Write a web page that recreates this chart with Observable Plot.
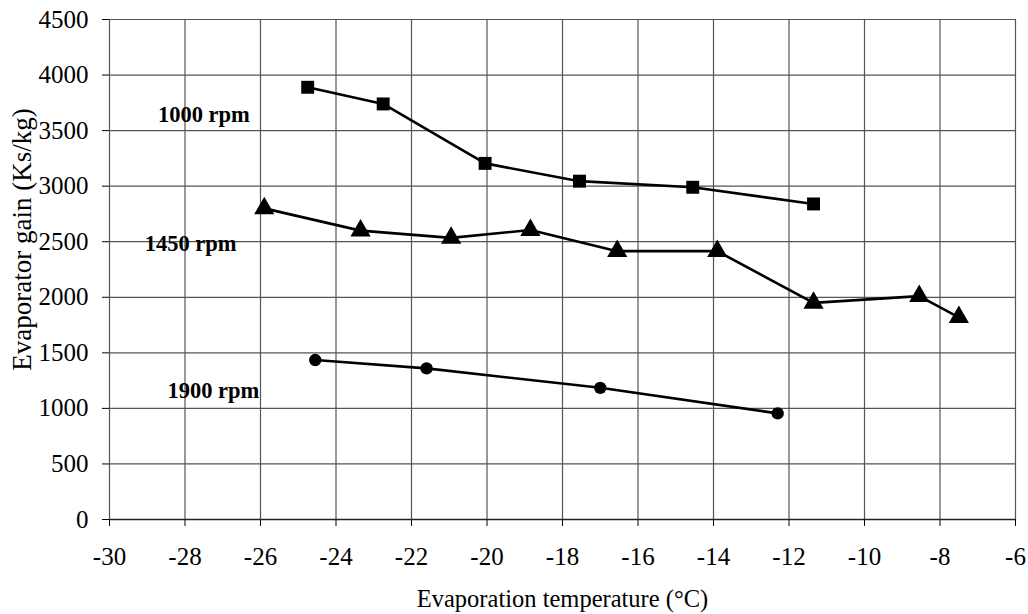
<!DOCTYPE html>
<html>
<head>
<meta charset="utf-8">
<script src="https://cdn.jsdelivr.net/npm/d3@7"></script>
<script src="https://cdn.jsdelivr.net/npm/@observablehq/plot@0.6"></script>
<style>
  html, body { margin: 0; padding: 0; background: white; }
</style>
</head>
<body>
<div id="chart"></div>
<script>
// Data
const temp1000 = [-24.75, -22.75, -20.05, -17.55, -14.55, -11.35];
const gain1000 = [3890, 3740, 3205, 3045, 2990, 2840];
const temp1450 = [-25.9, -23.35, -20.95, -18.85, -16.55, -13.9, -11.35, -8.55, -7.5];
const gain1450 = [2800, 2600, 2535, 2605, 2415, 2415, 1950, 2010, 1820];
const temp1900 = [-24.55, -21.6, -17.0, -12.3];
const gain1900 = [1435, 1360, 1185, 955];

const xTicks = [-30, -28, -26, -24, -22, -20, -18, -16, -14, -12, -10, -8, -6];
const yTicks = [0, 500, 1000, 1500, 2000, 2500, 3000, 3500, 4000, 4500];

const seriesNames = ["1000 rpm", "1450 rpm", "1900 rpm"];
const labelX = [-27.5, -27.85, -27.25];
const labelY = [3640, 2480, 1160];

const xTitle = "Evaporation temperature (°C)";
const yTitle = "Evaporator gain (Ks/kg)";

const toRows = (xs, ys) => xs.map((x, i) => ({x, y: ys[i]}));
const s1000 = toRows(temp1000, gain1000);
const s1450 = toRows(temp1450, gain1450);
const s1900 = toRows(temp1900, gain1900);
const labels = seriesNames.map((t, i) => ({t, x: labelX[i], y: labelY[i]}));

const serif = "'Liberation Serif', 'Times New Roman', serif";

const chart = Plot.plot({
  width: 1028,
  height: 614,
  marginLeft: 109,
  marginRight: 13,
  marginTop: 19,
  marginBottom: 95,
  style: {fontFamily: serif, fontSize: "24px", background: "white", color: "black"},
  x: {domain: [-30, -6], ticks: xTicks, tickFormat: () => "", tickSize: 7, label: null},
  y: {domain: [0, 4500], ticks: yTicks, tickFormat: () => "", tickSize: 7, label: null},
  marks: [
    Plot.ruleX(xTicks, {stroke: "#555", strokeWidth: 1.2}),
    Plot.ruleY(yTicks, {stroke: "#555", strokeWidth: 1.2}),
    Plot.ruleY([0], {stroke: "#222", strokeWidth: 1.5}),
    Plot.line(s1000, {x: "x", y: "y", stroke: "black", strokeWidth: 2.6}),
    Plot.line(s1450, {x: "x", y: "y", stroke: "black", strokeWidth: 2.6}),
    Plot.line(s1900, {x: "x", y: "y", stroke: "black", strokeWidth: 2.6}),
    Plot.dot(s1000, {x: "x", y: "y", symbol: "square", r: 7.3, fill: "black", stroke: "none"}),
    Plot.dot(s1450, {x: "x", y: "y", symbol: "triangle", r: 7.5, fill: "black", stroke: "none"}),
    Plot.dot(s1900, {x: "x", y: "y", symbol: "circle", r: 6.2, fill: "black", stroke: "none"}),
    Plot.text(xTicks, {x: d => d, frameAnchor: "bottom", dy: 37, lineAnchor: "middle", textAnchor: "middle", text: d => `${d}`, fontSize: 25, fontFamily: serif, fill: "black"}),
    Plot.text(yTicks, {y: d => d, frameAnchor: "left", dx: -21, lineAnchor: "middle", textAnchor: "end", text: d => `${d}`, fontSize: 25, fontFamily: serif, fill: "black"}),
    Plot.text(labels, {x: "x", y: "y", text: "t", fontWeight: "bold", fontSize: 22.5, fontFamily: serif, fill: "black"}),
    Plot.text([xTitle], {frameAnchor: "bottom", dy: 80, lineAnchor: "middle", textAnchor: "middle", text: d => d, fontSize: 24.5, fontFamily: serif, fill: "black"}),
    Plot.text([yTitle], {frameAnchor: "left", dx: -87, dy: -30, rotate: -90, lineAnchor: "middle", textAnchor: "middle", text: d => d, fontSize: 27, fontFamily: serif, fill: "black"})
  ]
});
document.getElementById("chart").appendChild(chart);
</script>
</body>
</html>
